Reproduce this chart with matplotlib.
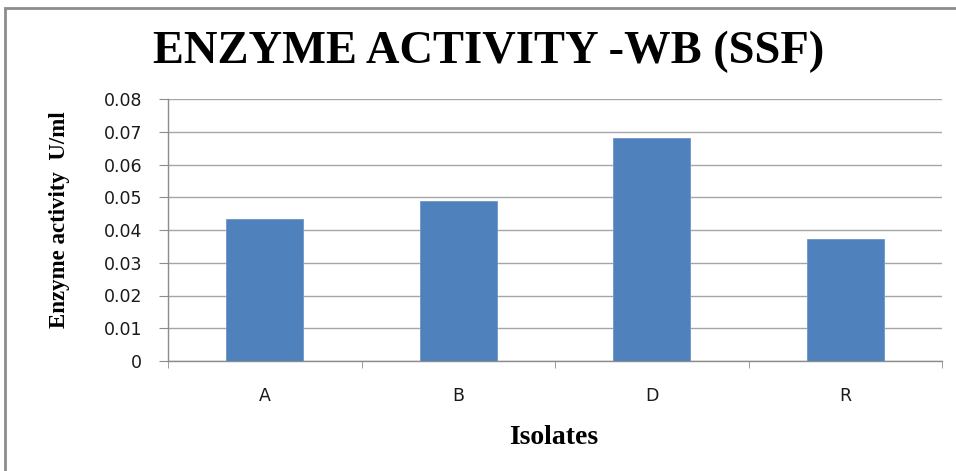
import numpy as np
import matplotlib.pyplot as plt
from matplotlib.patches import Rectangle

isolates = ["A", "B", "D", "R"]
activity = [0.0433, 0.0488, 0.0682, 0.0373]
yticks = [0, 0.01, 0.02, 0.03, 0.04, 0.05, 0.06, 0.07, 0.08]
ytick_labels = ["0", "0.01", "0.02", "0.03", "0.04", "0.05", "0.06", "0.07", "0.08"]

W, H = 956, 471
fig = plt.figure(figsize=(W/100, H/100), dpi=100)
ax = fig.add_axes([168/W, 1 - 361/H, (942 - 168)/W, (361 - 99)/H])

# outer frame of the original picture
fig.patches.append(Rectangle((5/W, -0.05), 1.1, 1 - 8/H + 0.05, transform=fig.transFigure,
                             fill=False, edgecolor="#8c8c8c", lw=2.0))

x = np.arange(len(isolates))
ax.bar(x, activity, width=0.4, color="#4F81BD", edgecolor="#6d96c9", lw=0.6, zorder=3)

tickfont = {"family": "DejaVu Sans", "size": 12.5, "color": "#1a1a1a"}
ax.set_xlim(-0.5, len(isolates) - 0.5)
ax.set_ylim(0, 0.08)
ax.set_yticks(yticks)
ax.set_yticklabels(ytick_labels, fontdict=tickfont)
ax.set_xticks(x)
ax.set_xticklabels(isolates, fontdict=tickfont)
ax.set_xticks(np.arange(len(isolates) + 1) - 0.5, minor=True)
ax.tick_params(axis="x", which="major", length=0, pad=19)
ax.tick_params(axis="x", which="minor", length=5, color="#8c8c8c", direction="out")
ax.tick_params(axis="y", length=6.5, color="#8c8c8c", direction="out", pad=12)

ax.yaxis.grid(True, color="#a6a6a6", lw=1.0, zorder=0)
ax.set_axisbelow(True)
for s in ["top", "right"]:
    ax.spines[s].set_visible(False)
for s in ["left", "bottom"]:
    ax.spines[s].set_color("#8c8c8c")
    ax.spines[s].set_linewidth(1.0)

serif = {"family": "Liberation Serif", "weight": "bold", "color": "black"}
fig.text(489/W, 1 - 63/H, "ENZYME ACTIVITY -WB (SSF)", ha="center", va="baseline", fontsize=33.5, fontdict=serif)
fig.text(60/W, 1 - 220/H, "Enzyme activity  U/ml", ha="center", va="center", rotation=90,
         fontsize=16.5, fontdict=serif)
fig.text(554/W, 1 - 437/H, "Isolates", ha="center", va="center", fontsize=20, fontdict=serif)

plt.savefig("out.png", dpi=100)
